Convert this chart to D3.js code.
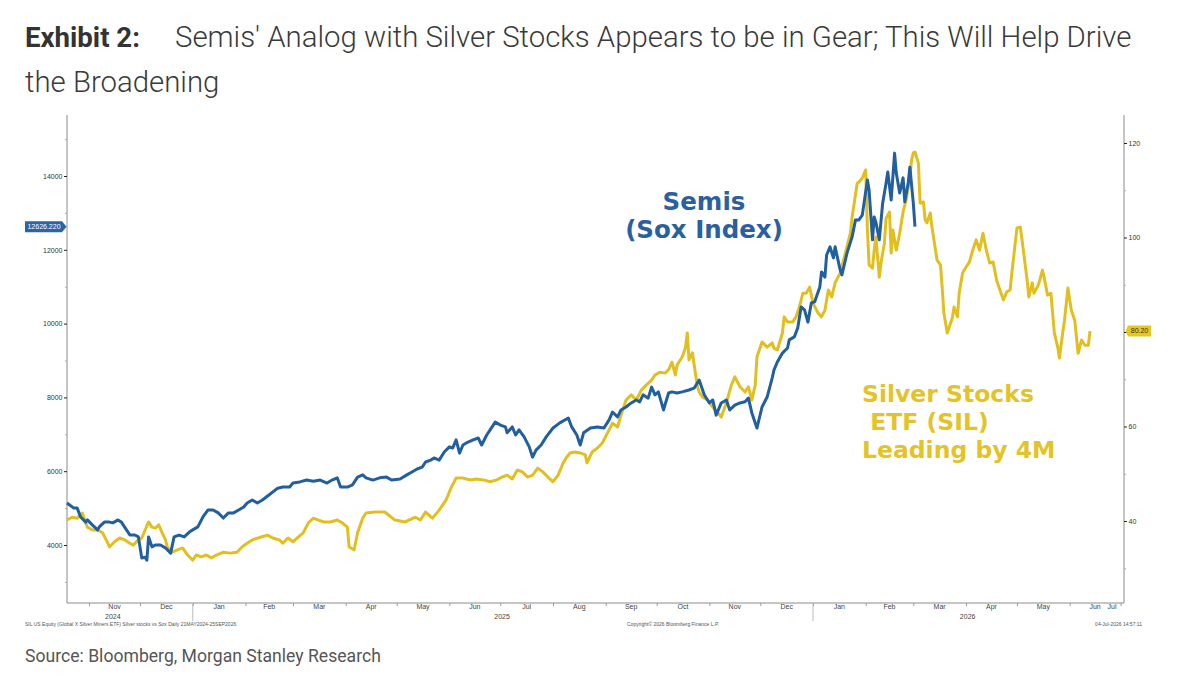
<!DOCTYPE html>
<html><head><meta charset="utf-8">
<script src="https://cdn.jsdelivr.net/npm/d3@7"></script>
<style>body{margin:0;background:#fff}svg{display:block}</style>
</head><body>
<svg id="c" width="1186" height="678"></svg>
<script>
// ---------------- DATA ----------------
const titleBold = "Exhibit 2:";
const titleLine1 = "Semis' Analog with Silver Stocks Appears to be in Gear; This Will Help Drive";
const titleLine2 = "the Broadening";
const sourceText = "Source: Bloomberg, Morgan Stanley Research";
const footLeft = "SIL US Equity (Global X Silver Miners ETF) Silver stocks vs Sox Daily 21MAY2024-25SEP2026";
const footMid = "Copyright\u00A9 2026 Bloomberg Finance L.P.";
const footRight = "04-Jul-2026 14:57:11";
const semisLabel = ["Semis", "(Sox Index)"];
const silLabel = ["Silver Stocks", " ETF (SIL)", "Leading by 4M"];

const leftTicks = [4000, 6000, 8000, 10000, 12000, 14000];
const leftMinor = [3000, 5000, 7000, 9000, 11000, 13000, 15000];
const rightTicks = [40, 60, 80, 100, 120];
const rightMinor = [30, 50, 70, 90, 110];
const monthLabelDates = ["2024-11","2024-12","2025-01","2025-02","2025-03","2025-04","2025-05","2025-06","2025-07","2025-08","2025-09","2025-10","2025-11","2025-12","2026-01","2026-02","2026-03","2026-04","2026-05","2026-06","2026-07"];
const yearLabels = ["2024", "2025", "2026"];
const yearLabelDates = ["2024-11-15", "2025-07-02", "2026-04-02"];
const yearBreaks = ["2025-01-01", "2026-01-01"];
const xStart = "2024-10-19", xEnd = "2026-07-03";

// Semis (SOX index), shifted forward 4 months (left axis)
const semisDates = [
"2024-10-19","2024-10-23","2024-10-25","2024-10-27","2024-10-30","2024-10-31",
"2024-11-03","2024-11-06","2024-11-07","2024-11-10","2024-11-13","2024-11-15","2024-11-18","2024-11-20","2024-11-23","2024-11-25","2024-11-28","2024-11-30",
"2024-12-02","2024-12-04","2024-12-05","2024-12-06","2024-12-08","2024-12-10","2024-12-13","2024-12-16","2024-12-19","2024-12-21","2024-12-24","2024-12-27","2024-12-30",
"2025-01-01","2025-01-04","2025-01-07","2025-01-10","2025-01-13","2025-01-16","2025-01-19","2025-01-22","2025-01-25","2025-01-28","2025-01-31",
"2025-02-02","2025-02-05","2025-02-08","2025-02-11","2025-02-15","2025-02-20","2025-02-23","2025-02-27",
"2025-03-01","2025-03-05","2025-03-09","2025-03-13","2025-03-17","2025-03-21","2025-03-24","2025-03-27","2025-03-29",
"2025-04-02","2025-04-05","2025-04-08","2025-04-11","2025-04-13","2025-04-17","2025-04-21","2025-04-25","2025-04-28",
"2025-05-03","2025-05-07","2025-05-10","2025-05-13","2025-05-16","2025-05-18","2025-05-21","2025-05-23","2025-05-26","2025-05-29",
"2025-06-01","2025-06-03","2025-06-05","2025-06-07","2025-06-09","2025-06-12","2025-06-15","2025-06-18","2025-06-20","2025-06-23","2025-06-25","2025-06-28",
"2025-07-01","2025-07-04","2025-07-05","2025-07-08","2025-07-10","2025-07-12","2025-07-15","2025-07-18","2025-07-20","2025-07-22","2025-07-25","2025-07-28",
"2025-08-01","2025-08-05","2025-08-10","2025-08-12","2025-08-15","2025-08-17","2025-08-19","2025-08-23","2025-08-27","2025-08-31",
"2025-09-03","2025-09-05","2025-09-08","2025-09-10","2025-09-13","2025-09-16","2025-09-19","2025-09-21","2025-09-23","2025-09-26","2025-09-28","2025-09-30",
"2025-10-02","2025-10-05","2025-10-08","2025-10-10","2025-10-13","2025-10-16","2025-10-20","2025-10-23","2025-10-26","2025-10-29",
"2025-11-01","2025-11-03","2025-11-05","2025-11-08","2025-11-11","2025-11-13","2025-11-16","2025-11-19","2025-11-22","2025-11-24","2025-11-26","2025-11-29",
"2025-12-02","2025-12-05","2025-12-08","2025-12-09","2025-12-11","2025-12-14","2025-12-17","2025-12-18","2025-12-21","2025-12-23","2025-12-25","2025-12-27","2025-12-29","2025-12-31",
"2026-01-02","2026-01-05","2026-01-06","2026-01-08","2026-01-09","2026-01-11","2026-01-13","2026-01-14","2026-01-17","2026-01-18","2026-01-21","2026-01-24","2026-01-26","2026-01-28","2026-01-30",
"2026-02-02","2026-02-03","2026-02-05","2026-02-06","2026-02-07","2026-02-09","2026-02-11","2026-02-13","2026-02-14","2026-02-16","2026-02-18","2026-02-19","2026-02-21","2026-02-23","2026-02-24","2026-02-26","2026-02-27",
"2026-03-01","2026-03-02"];
const semisValues = [
5140,5000,5000,4760,4620,4680,
4540,4410,4490,4620,4620,4600,4680,4620,4410,4270,4270,4220,
3650,3670,3590,4220,3950,4000,4000,3920,3780,4220,4270,4220,4350,
4410,4490,4760,4950,4950,4870,4730,4870,4870,4950,5030,
5140,5220,5140,5220,5360,5540,5570,5570,
5680,5710,5760,5730,5760,5680,5760,5820,5570,
5570,5630,5840,5900,5820,5760,5820,5840,5760,
5790,5900,5980,6060,6110,6250,6300,6360,6300,6520,
6660,6630,6850,6490,6710,6790,6850,6900,6710,6980,7120,7330,
7250,7200,7040,7200,6980,7120,6930,6660,6380,6570,6710,6930,
7170,7310,7440,7200,6980,6710,7040,7170,7200,7170,
7390,7600,7470,7660,7740,7850,7930,7880,8070,7980,8280,8070,
8150,7660,8120,8150,8120,8150,8200,8250,8470,8070,
7850,7930,7520,7850,7930,7660,7790,7850,7880,7980,7580,7170,
7740,8010,8530,8740,8960,9200,9340,9560,9640,9880,10450,10370,10040,10560,
10590,10990,11400,11260,11860,12080,11780,12080,11450,11320,11910,12350,12810,12810,12940,
13890,13620,12270,12890,12750,12270,13270,13810,14110,13350,14620,14080,13540,13950,13300,13810,14240,
13270,12626.22];

// Silver Miners ETF (SIL) (right axis)
const silDates = [
"2024-10-19","2024-10-22","2024-10-25","2024-10-28","2024-10-31",
"2024-11-03","2024-11-06","2024-11-09","2024-11-12","2024-11-13","2024-11-16","2024-11-19","2024-11-22","2024-11-25","2024-11-27","2024-11-30",
"2024-12-02","2024-12-04","2024-12-06","2024-12-08","2024-12-10","2024-12-12","2024-12-14","2024-12-16","2024-12-17","2024-12-20","2024-12-23","2024-12-26","2024-12-29",
"2025-01-01","2025-01-03","2025-01-06","2025-01-09","2025-01-12","2025-01-15","2025-01-19","2025-01-23","2025-01-27","2025-01-30",
"2025-02-02","2025-02-05","2025-02-10","2025-02-14","2025-02-17","2025-02-21","2025-02-23","2025-02-26",
"2025-03-01","2025-03-04","2025-03-07","2025-03-10","2025-03-13","2025-03-16","2025-03-19","2025-03-23","2025-03-27","2025-03-30",
"2025-04-02","2025-04-03","2025-04-06","2025-04-08","2025-04-11","2025-04-13","2025-04-18","2025-04-24","2025-04-30",
"2025-05-06","2025-05-12","2025-05-15","2025-05-18","2025-05-22","2025-05-26","2025-05-30",
"2025-06-02","2025-06-05","2025-06-09","2025-06-13","2025-06-17","2025-06-21","2025-06-25","2025-06-29",
"2025-07-02","2025-07-05","2025-07-08","2025-07-11","2025-07-14","2025-07-17","2025-07-20","2025-07-23","2025-07-26","2025-07-29",
"2025-08-01","2025-08-04","2025-08-07","2025-08-09","2025-08-11","2025-08-14","2025-08-17","2025-08-20","2025-08-21","2025-08-24","2025-08-27","2025-08-30",
"2025-09-02","2025-09-05","2025-09-08","2025-09-10","2025-09-13","2025-09-16","2025-09-19","2025-09-22","2025-09-25","2025-09-28","2025-09-30",
"2025-10-03","2025-10-06","2025-10-08","2025-10-10","2025-10-12","2025-10-13","2025-10-16","2025-10-18","2025-10-19","2025-10-20","2025-10-22","2025-10-25","2025-10-26","2025-10-28","2025-10-31",
"2025-11-03","2025-11-06","2025-11-08","2025-11-11","2025-11-14","2025-11-16","2025-11-19","2025-11-22","2025-11-24","2025-11-26","2025-11-28","2025-11-29",
"2025-12-02","2025-12-05","2025-12-08","2025-12-09","2025-12-11","2025-12-14","2025-12-15","2025-12-17","2025-12-20","2025-12-22","2025-12-24","2025-12-26","2025-12-28","2025-12-30",
"2026-01-01","2026-01-04","2026-01-06","2026-01-08","2026-01-10","2026-01-12","2026-01-14","2026-01-17","2026-01-20","2026-01-23","2026-01-24","2026-01-27","2026-01-28","2026-01-30",
"2026-02-01","2026-02-02","2026-02-03","2026-02-05","2026-02-06","2026-02-07","2026-02-09","2026-02-10","2026-02-12","2026-02-13","2026-02-15","2026-02-16","2026-02-17","2026-02-19","2026-02-21","2026-02-23","2026-02-25","2026-02-27","2026-02-28",
"2026-03-01","2026-03-02","2026-03-04","2026-03-05","2026-03-07","2026-03-08","2026-03-09","2026-03-11","2026-03-12","2026-03-15","2026-03-17","2026-03-18","2026-03-19","2026-03-21","2026-03-24","2026-03-25","2026-03-27","2026-03-28","2026-03-30",
"2026-04-01","2026-04-03","2026-04-05","2026-04-07","2026-04-09","2026-04-11","2026-04-13","2026-04-15","2026-04-17","2026-04-19","2026-04-21","2026-04-23","2026-04-25","2026-04-27","2026-04-28",
"2026-05-01","2026-05-03","2026-05-04","2026-05-07","2026-05-08","2026-05-10","2026-05-11","2026-05-13","2026-05-14","2026-05-16","2026-05-17","2026-05-19","2026-05-21","2026-05-23","2026-05-25","2026-05-26","2026-05-28","2026-05-29","2026-05-31",
"2026-06-02","2026-06-04","2026-06-06","2026-06-08","2026-06-10","2026-06-12","2026-06-13"];
const silValues = [
40.2,40.8,40.6,41.7,38.7,
38.1,38.1,37.5,35.3,34.5,35.6,36.4,36.0,35.3,34.9,36.0,
36.4,38.1,39.8,38.7,38.5,39.2,37.5,36.0,34.5,33.4,33.9,34.3,32.8,
31.7,32.8,32.4,32.8,32.2,32.8,33.4,33.2,33.4,34.5,
35.3,36.0,36.6,37.0,36.4,36.0,35.3,36.4,
35.6,36.6,37.5,39.6,40.6,40.2,39.8,39.8,40.2,39.6,
38.7,34.5,33.9,37.5,40.6,41.7,41.9,41.9,40.2,
39.8,40.8,40.2,41.9,40.6,42.3,44.4,
47.0,49.1,49.1,48.7,48.9,48.7,48.3,48.7,
49.3,49.7,48.9,50.8,50.4,49.3,49.7,51.2,50.4,49.3,
48.3,49.7,52.3,53.5,54.4,54.6,54.4,54.0,52.3,54.6,55.4,56.5,
58.6,60.7,59.9,62.4,65.6,66.7,65.6,67.7,68.8,69.8,70.9,
71.5,71.3,72.0,73.6,70.9,73.0,74.7,76.8,79.8,74.1,75.6,68.4,67.3,66.2,65.6,
64.1,62.9,62.0,65.0,68.8,70.5,68.4,67.3,68.4,65.6,68.8,74.7,
77.9,76.8,77.7,76.6,76.2,79.8,83.2,82.1,82.1,83.2,85.3,88.2,88.2,89.5,
86.1,84.0,83.2,84.6,88.9,87.4,90.4,92.5,96.7,100.9,104.3,111.5,111.7,112.6,
114.3,101.6,94.2,93.5,97.3,100.1,91.6,94.6,98.8,104.1,105.4,96.7,101.6,97.3,100.9,105.4,108.3,112.8,116.4,
117.9,118.1,115.8,107.3,107.5,103.7,103.1,105.2,102.2,95.2,94.2,89.5,84.0,79.8,83.0,85.3,83.2,88.2,92.5,
93.7,94.8,97.3,99.5,97.3,100.9,97.3,94.6,94.8,91.0,88.9,86.8,88.5,88.9,92.5,
102.0,102.2,99.5,91.0,87.4,90.4,88.2,89.5,90.4,93.1,91.6,87.8,88.2,79.8,76.8,74.5,80.0,82.5,89.3,
84.6,82.5,75.5,78.3,77.2,77.2,80.2];

// ---------------- CHART ----------------
const parse = d3.utcParse("%Y-%m-%d");
const parseM = d3.utcParse("%Y-%m");
const BLUE = "#215f9e", YELLOW = "#e2bf1f", AXIS = "#8c8c8c";
const P = {l: 67, r: 1124, t: 115, b: 603};

const svg = d3.select("#c");

const x = d3.scaleUtc().domain([parse(xStart), parse(xEnd)]).range([P.l, P.r]);
const yL0 = d3.scaleLinear().domain([4000, 14000]).range([545, 176]);
const yL = d3.scaleLinear().domain([yL0.invert(P.b), yL0.invert(P.t)]).range([P.b, P.t]);
const yR0 = d3.scaleLinear().domain([40, 120]).range([521, 143]);
const yR = d3.scaleLinear().domain([yR0.invert(P.b), yR0.invert(P.t)]).range([P.b, P.t]);

const zipS = (ds, vs) => ds.slice(0, Math.min(ds.length, vs.length)).map((d, i) => ({date: parse(d), v: vs[i]}));
const semis = zipS(semisDates, semisValues);
const sil = zipS(silDates, silValues);
const lastS = semis[semis.length - 1], lastY = sil[sil.length - 1];

// Title
svg.append("text").attr("x", 25).attr("y", 47)
  .style("font-family", "Roboto").style("font-size", "27.6px").style("font-weight", 700).style("fill", "#333")
  .text(titleBold);
const t2 = svg.append("text").attr("x", 175).attr("y", 47)
  .style("font-family", "Roboto").style("font-size", "26px").style("font-weight", 300).style("fill", "#3a3a3a")
  .text(titleLine1);
const w = t2.node().getComputedTextLength();
const fs = 26 * 957 / w;
t2.style("font-size", fs + "px");
svg.append("text").attr("x", 25).attr("y", 92)
  .style("font-family", "Roboto").style("font-size", fs + "px").style("font-weight", 300).style("fill", "#3a3a3a")
  .text(titleLine2);

// Source
svg.append("text").attr("x", 25).attr("y", 662)
  .style("font-family", "Roboto").style("font-size", "17.6px").style("font-weight", 400).style("fill", "#555")
  .text(sourceText);

// Frame
const g = svg.append("g");
g.append("line").attr("x1", P.l).attr("x2", P.l).attr("y1", P.t).attr("y2", P.b).attr("stroke", AXIS);
g.append("line").attr("x1", P.r).attr("x2", P.r).attr("y1", P.t).attr("y2", P.b).attr("stroke", AXIS);
g.append("line").attr("x1", P.l).attr("x2", P.r).attr("y1", P.b).attr("y2", P.b).attr("stroke", AXIS);

function styleAxis(sel, col) {
  sel.select(".domain").remove();
  sel.selectAll("line").attr("stroke", col);
  sel.selectAll("text").style("font-family", "Liberation Sans, Arial, sans-serif").style("font-size", "7px").style("fill", "#333");
}
// Left axis
svg.append("g").attr("transform", `translate(${P.l},0)`)
  .call(d3.axisLeft(yL).tickValues(leftMinor).tickSize(2).tickFormat(""))
  .call(s => styleAxis(s, "#aaa"));
svg.append("g").attr("transform", `translate(${P.l},0)`)
  .call(d3.axisLeft(yL).tickValues(leftTicks).tickSize(3).tickPadding(1.5).tickFormat(d3.format("d")))
  .call(s => styleAxis(s, "#222"));
// Right axis (tick label hidden where the last-value tag sits)
svg.append("g").attr("transform", `translate(${P.r},0)`)
  .call(d3.axisRight(yR).tickValues(rightMinor).tickSize(2).tickFormat(""))
  .call(s => styleAxis(s, "#aaa"));
svg.append("g").attr("transform", `translate(${P.r},0)`)
  .call(d3.axisRight(yR).tickValues(rightTicks).tickSize(3).tickPadding(1.5).tickFormat(d3.format("d")))
  .call(s => styleAxis(s, "#222"))
  .call(s => s.selectAll(".tick").filter(d => Math.abs(yR(d) - yR(lastY.v)) < 9).select("text").remove());
// Bottom axis: month boundary ticks
svg.append("g").attr("transform", `translate(0,${P.b})`)
  .call(d3.axisBottom(x).ticks(d3.utcMonth.every(1)).tickSize(3).tickFormat(""))
  .call(s => styleAxis(s, "#999"));

// Month labels centred in month span
const fmtM = d3.utcFormat("%b");
const [d0, d1] = x.domain();
monthLabelDates.forEach(m => {
  const a = parseM(m);
  const b = d3.utcMonth.offset(a, 1);
  const aa = a < d0 ? d0 : a, bb = b > d1 ? d1 : b;
  let cx = (x(aa) + x(bb)) / 2;
  cx = Math.min(cx, P.r - 12);
  svg.append("text").attr("x", cx).attr("y", 609).attr("text-anchor", "middle")
    .style("font-family", "Liberation Sans, Arial, sans-serif").style("font-size", "7px").style("fill", "#444")
    .text(fmtM(a));
});
yearLabels.forEach((yl, i) => {
  svg.append("text").attr("x", x(parse(yearLabelDates[i]))).attr("y", 619).attr("text-anchor", "middle")
    .style("font-family", "Liberation Sans, Arial, sans-serif").style("font-size", "7px").style("fill", "#444")
    .text(yl);
});
yearBreaks.forEach(d => {
  svg.append("line").attr("x1", x(parse(d))).attr("x2", x(parse(d))).attr("y1", P.b).attr("y2", 621)
    .attr("stroke", "#bbb").attr("stroke-width", 1);
});

// Footnotes
const footStyle = s => s.style("font-family", "Liberation Sans, Arial, sans-serif").style("font-size", "5px").style("fill", "#555");
svg.append("text").attr("x", 25).attr("y", 626).call(footStyle).text(footLeft);
svg.append("text").attr("x", 627).attr("y", 626).call(footStyle).text(footMid);
svg.append("text").attr("x", 1142).attr("y", 626).attr("text-anchor", "end").call(footStyle).text(footRight);

// Lines
const lineL = d3.line().x(d => x(d.date)).y(d => yL(d.v));
const lineR = d3.line().x(d => x(d.date)).y(d => yR(d.v));
svg.append("path").datum(sil).attr("d", lineR).attr("fill", "none").attr("stroke", YELLOW)
  .attr("stroke-width", 3).attr("stroke-linejoin", "round");
svg.append("path").datum(semis).attr("d", lineL).attr("fill", "none").attr("stroke", BLUE)
  .attr("stroke-width", 3).attr("stroke-linejoin", "round");

// Last value tags
const ys = yL(lastS.v);
svg.append("path").attr("d", `M25,${ys-5.5}H62L66.5,${ys}L62,${ys+5.5}H25Z`).attr("fill", "#2a66a6");
svg.append("text").attr("x", 44).attr("y", ys + 2.4).attr("text-anchor", "middle")
  .style("font-family", "Liberation Sans, Arial, sans-serif").style("font-size", "7px").style("fill", "#fff")
  .text(d3.format(".3f")(lastS.v));
const yy = yR(lastY.v);
svg.append("path").attr("d", `M1125.5,${yy}L1128,${yy-5.5}H1151V${yy+5.5}H1128Z`).attr("fill", "#e8c61c");
svg.append("text").attr("x", 1139.5).attr("y", yy + 2.4).attr("text-anchor", "middle")
  .style("font-family", "Liberation Sans, Arial, sans-serif").style("font-size", "7px").style("fill", "#333")
  .text(d3.format(".2f")(lastY.v));

// Annotations
const annoFont = "DejaVu Sans, Verdana, sans-serif";
semisLabel.forEach((t, i) => {
  svg.append("text").attr("x", 704).attr("y", 210 + i * 28).attr("text-anchor", "middle")
    .style("font-family", annoFont).style("font-weight", 700).style("font-size", "24.5px").style("fill", "#2a609f")
    .style("white-space", "pre").text(t);
});
silLabel.forEach((t, i) => {
  svg.append("text").attr("x", 862).attr("y", 402 + i * 28)
    .style("font-family", annoFont).style("font-weight", 700).style("font-size", "23.5px").style("fill", "#e3c327")
    .attr("xml:space", "preserve").style("white-space", "pre").text(t);
});
</script>
</body></html>
